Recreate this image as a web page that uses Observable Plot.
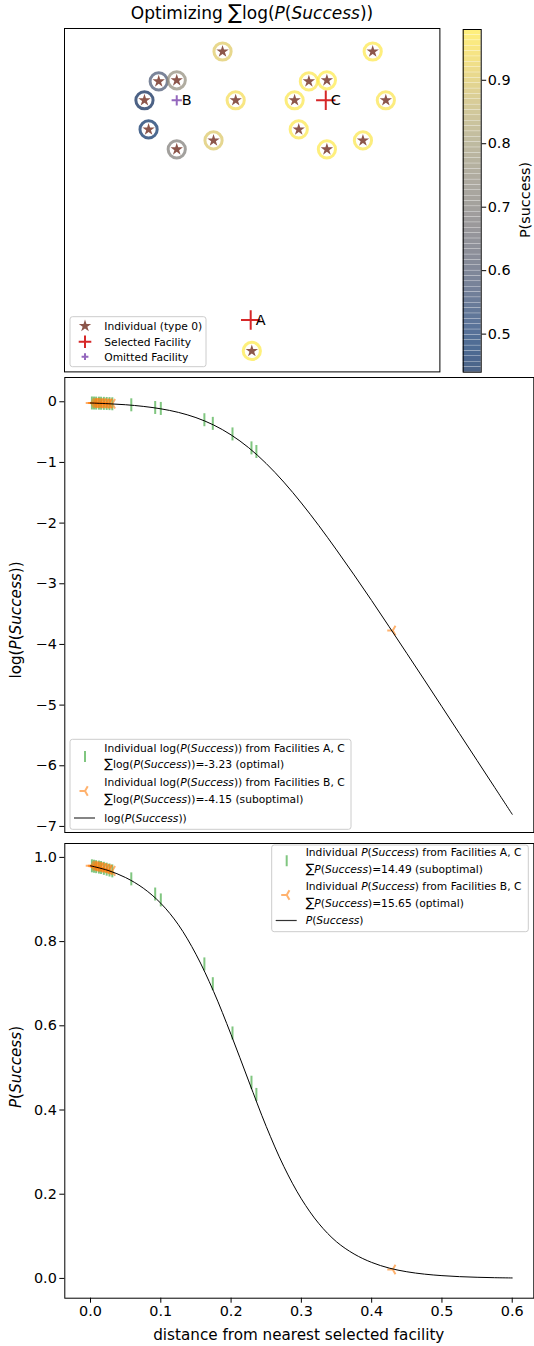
<!DOCTYPE html>
<html><head><meta charset="utf-8">
<script src="https://cdn.jsdelivr.net/npm/d3@7"></script>
<script src="https://cdn.jsdelivr.net/npm/@observablehq/plot@0.6"></script>
<style>
body{margin:0;background:#fff;}
#root{position:relative;width:534px;height:1346px;font-family:"DejaVu Sans",sans-serif;overflow:hidden;background:#fff;}
#root svg{max-width:none !important;}
</style></head><body><div id="root"></div>
<script>
// ---------- data ----------
// map of individuals (arbitrary map units) and their P(success) under facilities A, C
const indivX = [0.421,0.821,0.251,0.299,0.651,0.699,0.213,0.456,0.613,0.856,0.224,0.624,0.397,0.795,0.299,0.699,0.499];
const indivY = [0.933,0.933,0.846,0.849,0.846,0.849,0.791,0.791,0.791,0.791,0.706,0.706,0.674,0.674,0.648,0.648,0.061];
const indivP = [0.905,0.975,0.583,0.747,0.972,0.978,0.440,0.949,0.970,0.968,0.466,0.974,0.899,0.970,0.700,0.976,0.980];
const facName = ["A","B","C"];
const facX = [0.496,0.299,0.696];
const facY = [0.151,0.791,0.791];
const facSelected = [true,false,true];
const colorDomain = [0.44,0.98];
const colorTicks = [0.5,0.6,0.7,0.8,0.9];

// individual outcomes, facilities A, C
const distAC = [0.002,0.005,0.008,0.012,0.015,0.019,0.023,0.027,0.031,0.058,0.092,0.100,0.162,0.174,0.202,0.229,0.236];
const pAC    = [0.980,0.979,0.978,0.977,0.976,0.974,0.972,0.970,0.968,0.949,0.913,0.899,0.747,0.700,0.583,0.466,0.437];
const logAC  = [-0.020,-0.021,-0.022,-0.023,-0.024,-0.026,-0.028,-0.030,-0.033,-0.050,-0.094,-0.110,-0.296,-0.356,-0.530,-0.760,-0.820];
// individual outcomes, facilities B, C
const distBC = [0.001,0.004,0.005,0.007,0.008,0.010,0.012,0.014,0.015,0.018,0.019,0.022,0.023,0.026,0.027,0.031,0.430];
const pBC    = [0.980,0.980,0.979,0.979,0.978,0.978,0.977,0.976,0.976,0.975,0.974,0.973,0.972,0.971,0.970,0.968,0.021];
const logBC  = [-0.020,-0.020,-0.021,-0.021,-0.022,-0.022,-0.023,-0.024,-0.024,-0.025,-0.026,-0.027,-0.028,-0.029,-0.030,-0.033,-3.770];
// P(Success) curve
const curveD   = [0,0.025,0.05,0.075,0.1,0.125,0.15,0.175,0.2,0.225,0.25,0.275,0.3,0.325,0.35,0.375,0.4,0.425,0.45,0.475,0.5,0.525,0.55,0.575,0.6];
const curveP   = [0.980,0.969,0.952,0.927,0.891,0.840,0.770,0.682,0.579,0.469,0.361,0.266,0.189,0.130,0.087,0.058,0.038,0.0245,0.0158,0.0102,0.0066,0.0042,0.0027,0.0017,0.0011];
const curveLog = [-0.020,-0.032,-0.049,-0.076,-0.116,-0.175,-0.261,-0.382,-0.546,-0.757,-1.018,-1.324,-1.669,-2.044,-2.442,-2.854,-3.277,-3.710,-4.147,-4.585,-5.027,-5.470,-5.913,-6.356,-6.800];

const distTicks = [0,0.1,0.2,0.3,0.4,0.5,0.6];
const logTicks = [0,-1,-2,-3,-4,-5,-6,-7];
const probTicks = [0,0.2,0.4,0.6,0.8,1.0];

const legendLog = [
  "Individual log(*P*(*Success*)) from Facilities A, C",
  "{S}log(*P*(*Success*))=-3.23 (optimal)",
  "Individual log(*P*(*Success*)) from Facilities B, C",
  "{S}log(*P*(*Success*))=-4.15 (suboptimal)",
  "log(*P*(*Success*))"
];
const legendP = [
  "Individual *P*(*Success*) from Facilities A, C",
  "{S}*P*(*Success*)=14.49 (suboptimal)",
  "Individual *P*(*Success*) from Facilities B, C",
  "{S}*P*(*Success*)=15.65 (optimal)",
  "*P*(*Success*)"
];
const mapLegend = ["Individual (type 0)","Selected Facility","Omitted Facility"];

// ---------- tables ----------
const people = indivX.map((x,i)=>({x, y:indivY[i], p:indivP[i]}));
const facilities = facName.map((n,i)=>({name:n, x:facX[i], y:facY[i], sel:facSelected[i]}));
const rowsAC = distAC.map((d,i)=>({d, p:pAC[i], lp:logAC[i]}));
const rowsBC = distBC.map((d,i)=>({d, p:pBC[i], lp:logBC[i]}));
const curve = curveD.map((d,i)=>({d, p:curveP[i], lp:curveLog[i]}));

const GREEN="#2ca02c", ORANGE="#ff7f0e", BROWN="#8c564b", RED="#d62728", PURPLE="#9467bd";
const vline = {draw(ctx,size){const r=Math.sqrt(size/Math.PI); ctx.moveTo(0,-r); ctx.lineTo(0,r);}};
const triLeft = {draw(ctx,size){const r=Math.sqrt(size/Math.PI);
  ctx.moveTo(0,0); ctx.lineTo(-r,0); ctx.moveTo(0,0); ctx.lineTo(r*0.5,-r*0.866); ctx.moveTo(0,0); ctx.lineTo(r*0.5,r*0.866);}};

const root = document.getElementById("root");
function place(el,left,top){el.style.position="absolute";el.style.left=left+"px";el.style.top=top+"px";root.appendChild(el);}
const baseStyle = {background:"transparent", overflow:"visible", fontFamily:"DejaVu Sans", fontSize:"14.4px", color:"black"};
const xDom = [-0.0366, 0.6307];

// ---------- map panel ----------
const mapPlot = Plot.plot({
  width:377.4, height:345.4, marginLeft:1, marginRight:1, marginTop:1, marginBottom:1,
  x:{domain:[0,1], axis:null}, y:{domain:[0,1], axis:null},
  color:{type:"linear", scheme:"cividis", domain:colorDomain},
  style:baseStyle,
  marks:[
    Plot.dot(people,{x:"x",y:"y",r:8.6,stroke:"p",strokeWidth:3,strokeOpacity:0.7,fill:"none"}),
    Plot.dot(people,{x:"x",y:"y",symbol:"star",r:3.9,fill:BROWN,stroke:"none"}),
    Plot.dot(facilities.filter(d=>d.sel),{x:"x",y:"y",symbol:"plus",r:6.3,stroke:RED,strokeWidth:2}),
    Plot.dot(facilities.filter(d=>!d.sel),{x:"x",y:"y",symbol:"plus",r:3.4,stroke:PURPLE,strokeWidth:2}),
    Plot.text(facilities,{x:"x",y:"y",text:"name",dx:5,textAnchor:"start",fontSize:14.4,fill:"black"}),
    Plot.frame({stroke:"black",strokeWidth:1})
  ]
});
place(mapPlot, 63.3, 27.3);

// ---------- colorbar ----------
const nb = 64;
const ramp = d3.range(nb).map(i=>{const a=colorDomain[0]+(colorDomain[1]-colorDomain[0])*i/nb, b=colorDomain[0]+(colorDomain[1]-colorDomain[0])*(i+1)/nb; return {a,b,m:(a+b)/2};});
const cbar = Plot.plot({
  width:94, height:360, marginLeft:22.7, marginRight:53.3, marginTop:9, marginBottom:8.3,
  x:{domain:[0,1], axis:null},
  y:{domain:colorDomain, axis:"right", ticks:colorTicks, tickFormat:".1f", tickSize:4.5, tickPadding:2, label:null},
  color:{type:"linear", scheme:"cividis", domain:colorDomain},
  style:baseStyle,
  marks:[
    Plot.rect(ramp,{x1:0,x2:1,y1:"a",y2:"b",fill:"m",fillOpacity:0.7,insetTop:0.35}),
    Plot.frame({stroke:"black",strokeWidth:1})
  ]
});
place(cbar, 440, 20);

// ---------- log panel ----------
const logPlot = Plot.plot({
  width:534, height:464, marginLeft:64.3, marginRight:0.7, marginTop:5, marginBottom:4,
  x:{domain:xDom, axis:null},
  y:{domain:[-7.10,0.40], ticks:logTicks, tickSize:5, tickPadding:3, label:null},
  style:baseStyle,
  marks:[
    Plot.dot(rowsAC,{x:"d",y:"lp",symbol:vline,r:6.5,stroke:GREEN,strokeOpacity:0.6,strokeWidth:2,fill:"none"}),
    Plot.dot(rowsBC,{x:"d",y:"lp",symbol:triLeft,r:5.5,stroke:ORANGE,strokeOpacity:0.6,strokeWidth:2,fill:"none"}),
    Plot.line(curve,{x:"d",y:"lp",stroke:"black",strokeWidth:1,curve:"catmull-rom"}),
    Plot.frame({stroke:"black",strokeWidth:1})
  ]
});
place(logPlot, 0, 372);

// ---------- P panel ----------
const pPlot = Plot.plot({
  width:534, height:510, marginLeft:64.3, marginRight:0.7, marginTop:7, marginBottom:48.3,
  x:{domain:xDom, ticks:distTicks, tickFormat:".1f", tickSize:5, tickPadding:3, label:null},
  y:{domain:[-0.047,1.033], ticks:probTicks, tickFormat:".1f", tickSize:5, tickPadding:3, label:null},
  style:baseStyle,
  marks:[
    Plot.dot(rowsAC,{x:"d",y:"p",symbol:vline,r:6.5,stroke:GREEN,strokeOpacity:0.6,strokeWidth:2,fill:"none"}),
    Plot.dot(rowsBC,{x:"d",y:"p",symbol:triLeft,r:5.5,stroke:ORANGE,strokeOpacity:0.6,strokeWidth:2,fill:"none"}),
    Plot.line(curve,{x:"d",y:"p",stroke:"black",strokeWidth:1,curve:"catmull-rom"}),
    Plot.frame({stroke:"black",strokeWidth:1})
  ]
});
place(pPlot, 0, 836);

// ---------- overlay text & legends ----------
const ns="http://www.w3.org/2000/svg";
const ov=document.createElementNS(ns,"svg");
ov.setAttribute("width",534); ov.setAttribute("height",1346);
ov.style.pointerEvents="none";
place(ov,0,0);
function el(tag,attrs,parent){const e=document.createElementNS(ns,tag);for(const k in attrs)e.setAttribute(k,attrs[k]);(parent||ov).appendChild(e);return e;}
function rich(str,attrs,parent){
  const t=el("text",Object.assign({"font-family":"DejaVu Sans",fill:"black"},attrs),parent);
  str.split(/(\*[^*]+\*|\{S\})/).forEach(part=>{
    if(!part)return;
    const ts=document.createElementNS(ns,"tspan");
    if(part==="{S}"){ts.textContent="\u2211";ts.setAttribute("font-size","1.2em");}
    else if(part[0]==="*"){ts.textContent=part.slice(1,-1);ts.setAttribute("font-style","italic");}
    else ts.textContent=part;
    t.appendChild(ts);
  });
  return t;
}
const LFS = 15.2;
// title
rich("Optimizing {S}log(*P*(*Success*))",{x:252,y:19,"font-size":17,"text-anchor":"middle"});
// axis labels
rich("P(success)",{transform:"translate(524.5,200) rotate(-90)","font-size":14.4,"text-anchor":"middle",dy:"0.35em"});
rich("log(*P*(*Success*))",{transform:"translate(16,620) rotate(-90)","font-size":LFS,"text-anchor":"middle",dy:"0.35em"});
rich("*P*(*Success*)",{transform:"translate(16,1067) rotate(-90)","font-size":LFS,"text-anchor":"middle",dy:"0.35em"});
rich("distance from nearest selected facility",{x:298.8,y:1340,"font-size":LFS,"text-anchor":"middle"});

function box(x,y,w,h){el("rect",{x,y,width:w,height:h,rx:2.5,fill:"white","fill-opacity":0.8,stroke:"#cccccc","stroke-width":1});}
const FS=10.7;
// map legend
box(70,316.7,136,50);
el("path",{d:d3.symbol(d3.symbolStar,Math.PI*3.9*3.9)(),transform:"translate(85,326)",fill:BROWN});
el("path",{d:"M-6.3,0H6.3M0,-6.3V6.3",transform:"translate(85,341.7)",stroke:RED,"stroke-width":2,fill:"none"});
el("path",{d:"M-3.4,0H3.4M0,-3.4V3.4",transform:"translate(85,356.7)",stroke:PURPLE,"stroke-width":2,fill:"none"});
[326,341.7,356.7].forEach((y,i)=>rich(mapLegend[i],{x:104.3,y:y+3.8,"font-size":FS}));

function distLegend(bx,by,bw,bh,mx,tx,ys,labels){
  box(bx,by,bw,bh);
  labels.forEach((s,i)=>rich(s,{x:tx,y:ys[i]+3.8,"font-size":FS}));
  const g1=(ys[0]+ys[1])/2, g2=(ys[2]+ys[3])/2;
  el("path",{d:"M0,-5.5V5.5",transform:`translate(${mx},${g1})`,stroke:GREEN,"stroke-opacity":0.6,"stroke-width":2,fill:"none"});
  const r=5.5;
  el("path",{d:`M0,0H${-r}M0,0L${r*0.5},${-r*0.866}M0,0L${r*0.5},${r*0.866}`,transform:`translate(${mx},${g2})`,stroke:ORANGE,"stroke-opacity":0.6,"stroke-width":2,fill:"none"});
  el("path",{d:`M${mx-11},${ys[4]}H${mx+10}`,stroke:"#333","stroke-width":1.2});
}
distLegend(70,739.3,281,90,85,104.3,[748.5,764.5,782.5,799.5,818],legendLog);
distLegend(271.7,845,256.6,86.7,286.7,305.7,[852.5,869,886.5,903.5,920.5],legendP);
</script></body></html>
